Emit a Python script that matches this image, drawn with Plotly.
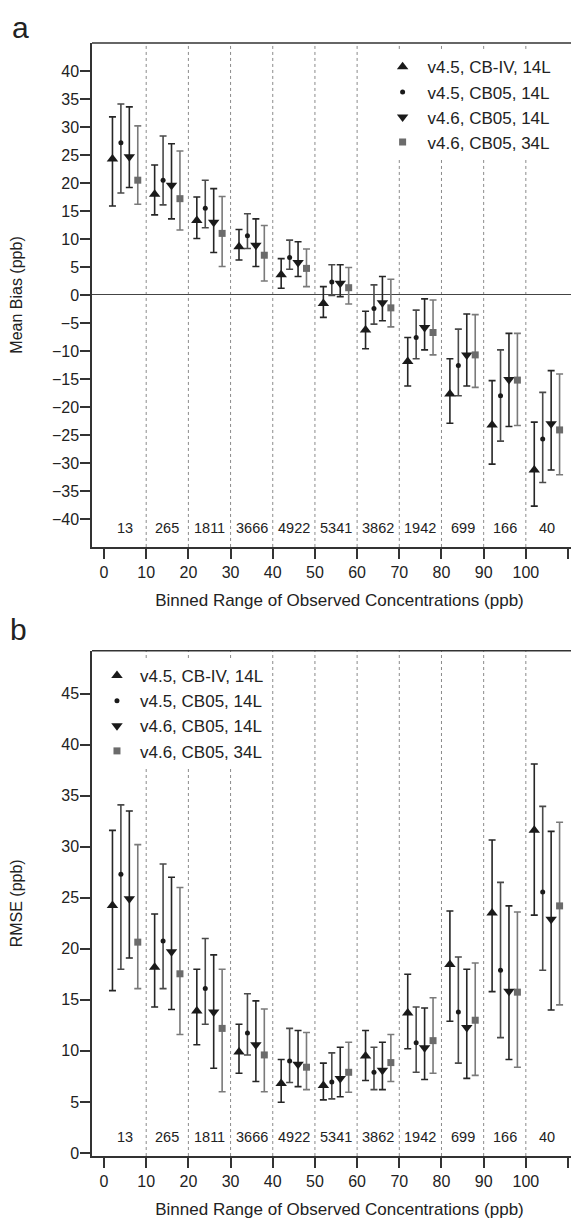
import plotly.graph_objects as go

# ---------------- data ----------------
bin_starts = [0, 10, 20, 30, 40, 50, 60, 70, 80, 90, 100]
counts = [13, 265, 1811, 3666, 4922, 5341, 3862, 1942, 699, 166, 40]
series_names = ["v4.5, CB-IV, 14L", "v4.5, CB05, 14L", "v4.6, CB05, 14L", "v4.6, CB05, 34L"]
series_offsets = [2, 4, 6, 8]

# Panel a: Mean Bias (ppb)
tri_mb = [24.3, 18.0, 13.3, 8.6, 3.6, -1.5, -6.25, -11.9, -17.7, -23.2, -31.25]
tri_mb_hi = [31.8, 23.2, 17.5, 11.7, 6.5, 1.5, -2.9, -7.6, -11.4, -15.3, -22.7]
tri_mb_lo = [15.9, 14.3, 10.1, 6.25, 1.2, -4.0, -9.6, -16.25, -22.9, -30.2, -37.7]

dot_mb = [27.2, 20.5, 15.5, 10.6, 6.7, 2.3, -2.4, -7.6, -12.6, -18.0, -25.7]
dot_mb_hi = [34.1, 28.4, 20.5, 14.5, 9.8, 5.4, 1.8, -2.7, -6.1, -9.8, -17.4]
dot_mb_lo = [18.2, 16.1, 12.0, 8.3, 4.6, -0.1, -5.2, -11.4, -18.0, -26.1, -33.5]

down_mb = [24.7, 19.6, 13.0, 8.9, 5.8, 2.1, -1.4, -5.8, -10.7, -15.1, -23.0]
down_mb_hi = [33.6, 27.0, 19.0, 13.6, 9.5, 5.4, 3.3, -0.7, -3.4, -6.85, -13.5]
down_mb_lo = [19.2, 13.6, 7.6, 5.1, 3.3, -0.3, -4.6, -9.8, -16.25, -23.5, -31.25]

sq_mb = [20.5, 17.2, 11.0, 7.1, 4.75, 1.3, -2.3, -6.7, -10.7, -15.2, -24.1]
sq_mb_hi = [30.2, 25.7, 17.6, 12.4, 8.2, 4.9, 2.8, -0.9, -3.5, -6.85, -14.1]
sq_mb_lo = [16.2, 11.6, 5.1, 2.5, 1.5, -1.6, -5.7, -10.7, -16.5, -23.3, -32.1]

# Panel b: RMSE (ppb)
tri_rm = [24.25, 18.2, 13.9, 9.9, 6.8, 6.6, 9.5, 13.7, 18.45, 23.5, 31.6]
tri_rm_hi = [31.6, 23.4, 18.0, 12.6, 9.15, 8.8, 12.0, 17.5, 23.7, 30.65, 38.1]
tri_rm_lo = [15.9, 14.3, 10.6, 7.8, 4.96, 5.2, 7.1, 10.2, 12.9, 15.8, 23.3]

dot_rm = [27.3, 20.75, 16.1, 11.75, 9.0, 6.96, 7.9, 10.8, 13.8, 17.9, 25.55]
dot_rm_hi = [34.1, 28.3, 21.0, 15.6, 12.2, 9.8, 10.35, 14.3, 19.2, 26.5, 33.95]
dot_rm_lo = [18.0, 16.1, 12.6, 9.6, 6.9, 5.3, 6.2, 7.9, 8.8, 11.3, 17.9]

down_rm = [24.9, 19.7, 13.8, 10.6, 8.7, 7.3, 8.1, 10.3, 12.3, 15.85, 22.9]
down_rm_hi = [33.5, 27.0, 19.4, 14.9, 12.0, 10.35, 10.85, 14.2, 18.0, 24.2, 31.5]
down_rm_lo = [19.1, 14.05, 8.3, 7.0, 6.5, 5.5, 6.2, 7.2, 7.3, 9.15, 14.0]

sq_rm = [20.65, 17.55, 12.2, 9.6, 8.4, 7.9, 8.85, 11.0, 13.0, 15.75, 24.2]
sq_rm_hi = [30.2, 26.0, 18.0, 14.1, 11.8, 10.85, 11.6, 15.2, 18.6, 23.6, 32.4]
sq_rm_lo = [16.1, 11.6, 6.0, 6.0, 6.2, 5.95, 7.0, 7.8, 7.6, 8.4, 14.5]

x_ticks = [0, 10, 20, 30, 40, 50, 60, 70, 80, 90, 100, 110]
x_ticklabels = ["0", "10", "20", "30", "40", "50", "60", "70", "80", "90", "100", ""]
mb_ticks = list(range(-40, 45, 5))
rm_ticks = list(range(0, 50, 5))

# ---------------- styles ----------------
FONT = "Liberation Sans, Arial, Helvetica, sans-serif"
TXT = "#222222"
symbols = ["triangle-up", "circle", "triangle-down", "square"]
msizes = [10, 5, 10, 7]
mcolors = ["#1a1a1a", "#1a1a1a", "#1a1a1a", "#6b6b6b"]
ecolors = ["#262626", "#4a4a4a", "#262626", "#7a7a7a"]

fig = go.Figure()

panels = [
    ("x", "y", "legend",
     [(tri_mb, tri_mb_hi, tri_mb_lo), (dot_mb, dot_mb_hi, dot_mb_lo),
      (down_mb, down_mb_hi, down_mb_lo), (sq_mb, sq_mb_hi, sq_mb_lo)]),
    ("x2", "y2", "legend2",
     [(tri_rm, tri_rm_hi, tri_rm_lo), (dot_rm, dot_rm_hi, dot_rm_lo),
      (down_rm, down_rm_hi, down_rm_lo), (sq_rm, sq_rm_hi, sq_rm_lo)]),
]

for xa, ya, leg, data in panels:
    for i, (vals, hi, lo) in enumerate(data):
        xs = [b + series_offsets[i] for b in bin_starts]
        fig.add_trace(go.Scatter(
            x=xs, y=vals, mode="markers", name=series_names[i],
            xaxis=xa, yaxis=ya, legend=leg,
            marker=dict(symbol=symbols[i], size=msizes[i], color=mcolors[i],
                        line=dict(width=0)),
            error_y=dict(type="data", symmetric=False,
                         array=[h - v for h, v in zip(hi, vals)],
                         arrayminus=[v - l for v, l in zip(vals, lo)],
                         color=ecolors[i], thickness=1.6, width=3.5),
        ))

# ---------------- layout ----------------
ML, MT, MB = 84, 35, 70
W, H = 579, 1218
xr = [-2.85, 114.5]
axis_common = dict(showgrid=False, ticks="outside", ticklen=10, tickwidth=1.5,
                   tickcolor="#333333", showline=True, linecolor="#333333",
                   linewidth=1.5, automargin=False,
                   tickfont=dict(family=FONT, size=16, color=TXT))
xtitle_font = dict(family=FONT, size=17, color=TXT)
ytitle_font = dict(family=FONT, size=16, color=TXT)

fig.update_layout(
    width=W, height=H,
    margin=dict(l=ML, r=0, t=MT, b=MB),
    paper_bgcolor="white", plot_bgcolor="white",
    font=dict(family=FONT, color=TXT),
    xaxis=dict(domain=[0, 1], anchor="y", range=xr, tickvals=x_ticks, ticktext=x_ticklabels,
               ticklabelstandoff=0,
               title=dict(text="Binned Range of Observed Concentrations (ppb)",
                          font=xtitle_font, standoff=14),
               **axis_common),
    yaxis=dict(domain=[0.5472, 1], anchor="x", range=[-45, 45], tickvals=mb_ticks,
               zeroline=True, zerolinecolor="#444444", zerolinewidth=1.3,
               ticklabelstandoff=-2,
               title=dict(text="Mean Bias (ppb)", font=ytitle_font, standoff=36),
               **axis_common),
    xaxis2=dict(domain=[0, 1], anchor="y2", range=xr, tickvals=x_ticks, ticktext=x_ticklabels,
                ticklabelstandoff=0,
                title=dict(text="Binned Range of Observed Concentrations (ppb)",
                           font=xtitle_font, standoff=14),
                **axis_common),
    yaxis2=dict(domain=[0, 0.454], anchor="x2", range=[-0.3, 49.2], tickvals=rm_ticks,
                zeroline=False, ticklabelstandoff=-2,
                title=dict(text="RMSE (ppb)", font=ytitle_font, standoff=36),
                **axis_common),
    legend=dict(x=0.577, y=0.9944, xanchor="left", yanchor="top", bgcolor="white",
                borderwidth=0, font=dict(family=FONT, size=17, color=TXT),
                itemwidth=40, tracegroupgap=0),
    legend2=dict(x=0.004, y=0.4474, xanchor="left", yanchor="top", bgcolor="white",
                 borderwidth=0, font=dict(family=FONT, size=17, color=TXT),
                 itemwidth=36, tracegroupgap=0),
)

shapes = []
for xa, ya in [("x", "y"), ("x2", "y2")]:
    for b in bin_starts[1:]:
        shapes.append(dict(type="line", xref=xa, yref=ya + " domain", x0=b, x1=b, y0=0, y1=1,
                           line=dict(color="#8a8a8a", width=1, dash="dot"), layer="below"))
    shapes.append(dict(type="line", xref=xa + " domain", yref=ya + " domain", x0=0, x1=1,
                       y0=1, y1=1, line=dict(color="#333333", width=1.5)))
fig.update_layout(shapes=shapes)

# panel-label positions (top edge of label box) in figure pixels, converted to paper coords
pw, ph = W - ML, H - MT - MB
panel_labels = [("a", 12, 1), ("b", 10, 603)]

annotations = []
for xa, ya, ypos in [("x", "y", -41.7), ("x2", "y2", 1.57)]:
    for b, c in zip(bin_starts, counts):
        annotations.append(dict(x=b + 5, y=ypos, xref=xa, yref=ya, text=str(c), showarrow=False,
                                font=dict(family=FONT, size=14.5, color=TXT)))
for lab, px, py in panel_labels:
    annotations.append(dict(x=(px - ML) / pw, y=(H - MB - py) / ph, xref="paper", yref="paper",
                            xanchor="center", yanchor="top",
                            text=lab, showarrow=False, font=dict(family=FONT, size=30, color=TXT)))
fig.update_layout(annotations=annotations)

fig.write_html("out.html")
